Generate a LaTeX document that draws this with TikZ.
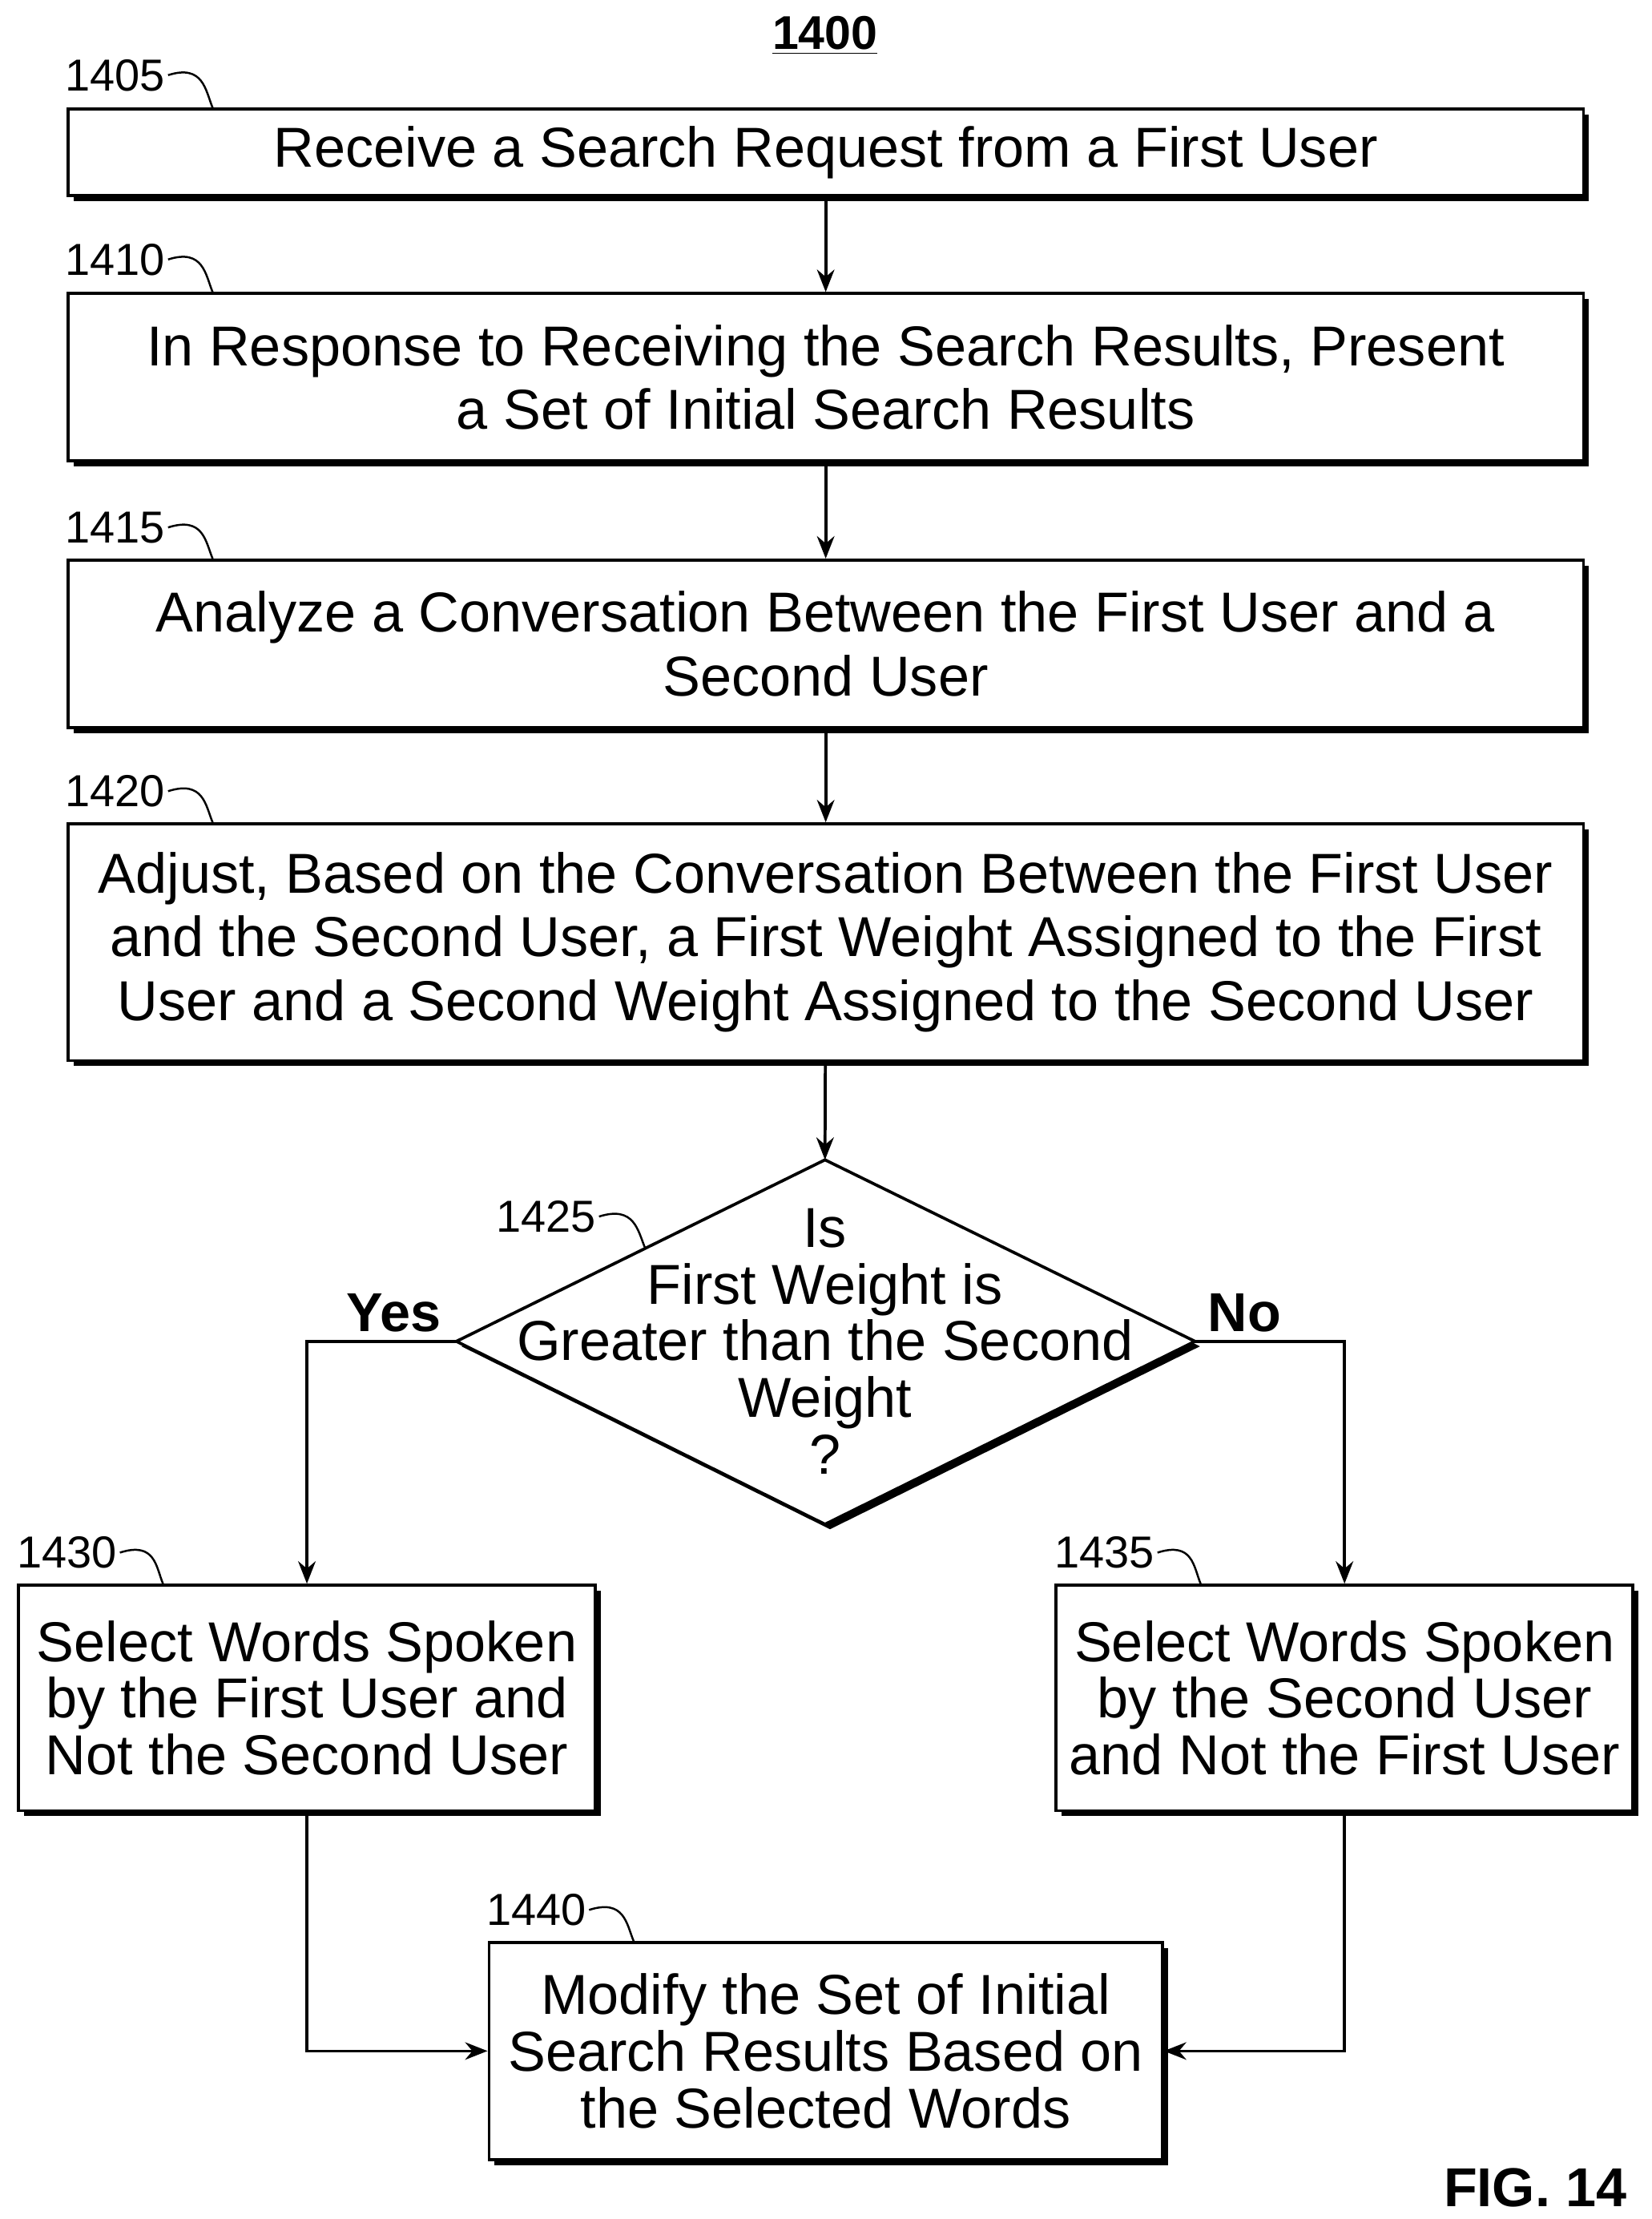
\documentclass[tikz,border=0pt]{standalone}
\usepackage{fontspec}
\setmainfont{Liberation Sans}
\usetikzlibrary{shadows,arrows.meta}
\tikzset{
  proc/.style={draw, line width=1.2pt, fill=white, align=center,
    drop shadow={opacity=1, fill=black, shadow xshift=2.2pt, shadow yshift=-2.2pt}},
  big/.style={font=\fontsize{22.6}{25.5}\selectfont},
  small/.style={font=\fontsize{22.6}{22.8}\selectfont},
  ref/.style={font=\fontsize{18}{20}\selectfont, anchor=west, inner sep=1pt},
  tick/.style={line width=0.8pt},
  flow/.style={line width=1.2pt, -{Stealth[length=9pt,width=7pt]}},
}
\begin{document}
\begin{tikzpicture}[x=0.02cm, y=-0.02cm]
\useasboundingbox (0,0) rectangle (1165,1565);
\node[font=\bfseries\fontsize{19}{20}\selectfont] (title) at (582,25) {\underline{1400}};
% boxes
\node[proc, big, minimum width=1069*0.02cm, minimum height=61*0.02cm] (s1405) at (582.5,107.5) {Receive a Search Request from a First User};
\node[proc, big, minimum width=1069*0.02cm, minimum height=118*0.02cm] (s1410) at (582.5,266) {In Response to Receiving the Search Results, Present\\a Set of Initial Search Results};
\node[proc, big, minimum width=1069*0.02cm, minimum height=118*0.02cm] (s1415) at (582.5,454) {Analyze a Conversation Between the First User and a\\Second User};
\node[proc, big, minimum width=1069*0.02cm, minimum height=167*0.02cm] (s1420) at (582.5,664.5) {Adjust, Based on the Conversation Between the First User\\and the Second User, a First Weight Assigned to the First\\User and a Second Weight Assigned to the Second User};
% decision
\coordinate (dt) at (582,818); \coordinate (dr) at (843,946);
\coordinate (db) at (582,1075); \coordinate (dl) at (322,946);
\fill[black] ([xshift=2pt,yshift=-2pt]dt) -- ([xshift=2pt,yshift=-2pt]dr) -- ([xshift=2pt,yshift=-2pt]db) -- ([xshift=2pt,yshift=-2pt]dl) -- cycle;
\draw[line width=1.2pt, fill=white] (dt) -- (dr) -- (db) -- (dl) -- cycle;
\node[small, align=center] (q1425) at (582,946) {Is\\First Weight is\\Greater than the Second\\Weight\\?};
\node[proc, small, minimum width=407*0.02cm, minimum height=159*0.02cm, inner xsep=2pt] (s1430) at (216.5,1197.5) {Select Words Spoken\\by the First User and\\Not the Second User};
\node[proc, small, minimum width=407*0.02cm, minimum height=159*0.02cm, inner xsep=2pt] (s1435) at (948.5,1197.5) {Select Words Spoken\\by the Second User\\and Not the First User};
\node[proc, small, minimum width=475*0.02cm, minimum height=153*0.02cm] (s1440) at (582.5,1446.5) {Modify the Set of Initial\\Search Results Based on\\the Selected Words};
% reference numerals
\foreach \n/\x/\y/\tx/\ty in {1405/44/53/150/76, 1410/44/183/150/206, 1415/44/372/150/394, 1420/44/558/150/580,
  1425/348/858/455/880, 1430/10/1095/115/1117, 1435/742/1095/847/1117, 1440/341/1347/447/1369}{
  \node[ref] (r\n) at (\x,\y) {\n};
  \draw[tick] (r\n.east) .. controls +(25,-8) and +(-5,-12) .. (\tx,\ty);
}
% connectors
\draw[flow] (s1405) -- (s1410);
\draw[flow] (s1410) -- (s1415);
\draw[flow] (s1415) -- (s1420);
\draw[flow] (s1420) -- (dt);
\draw[flow] (dl) -| (s1430.north);
\draw[flow] (dr) -| (s1435.north);
\draw[flow] (s1430.south) |- (s1440.west);
\draw[flow] (s1435.south) |- (s1440.east);
\node[font=\bfseries\fontsize{22}{24}\selectfont] (yes) at (278,926) {Yes};
\node[font=\bfseries\fontsize{22}{24}\selectfont] (no) at (878,926) {No};
\node[font=\bfseries\fontsize{22}{24}\selectfont] (fig) at (1083,1543) {FIG. 14};
\end{tikzpicture}
\end{document}
